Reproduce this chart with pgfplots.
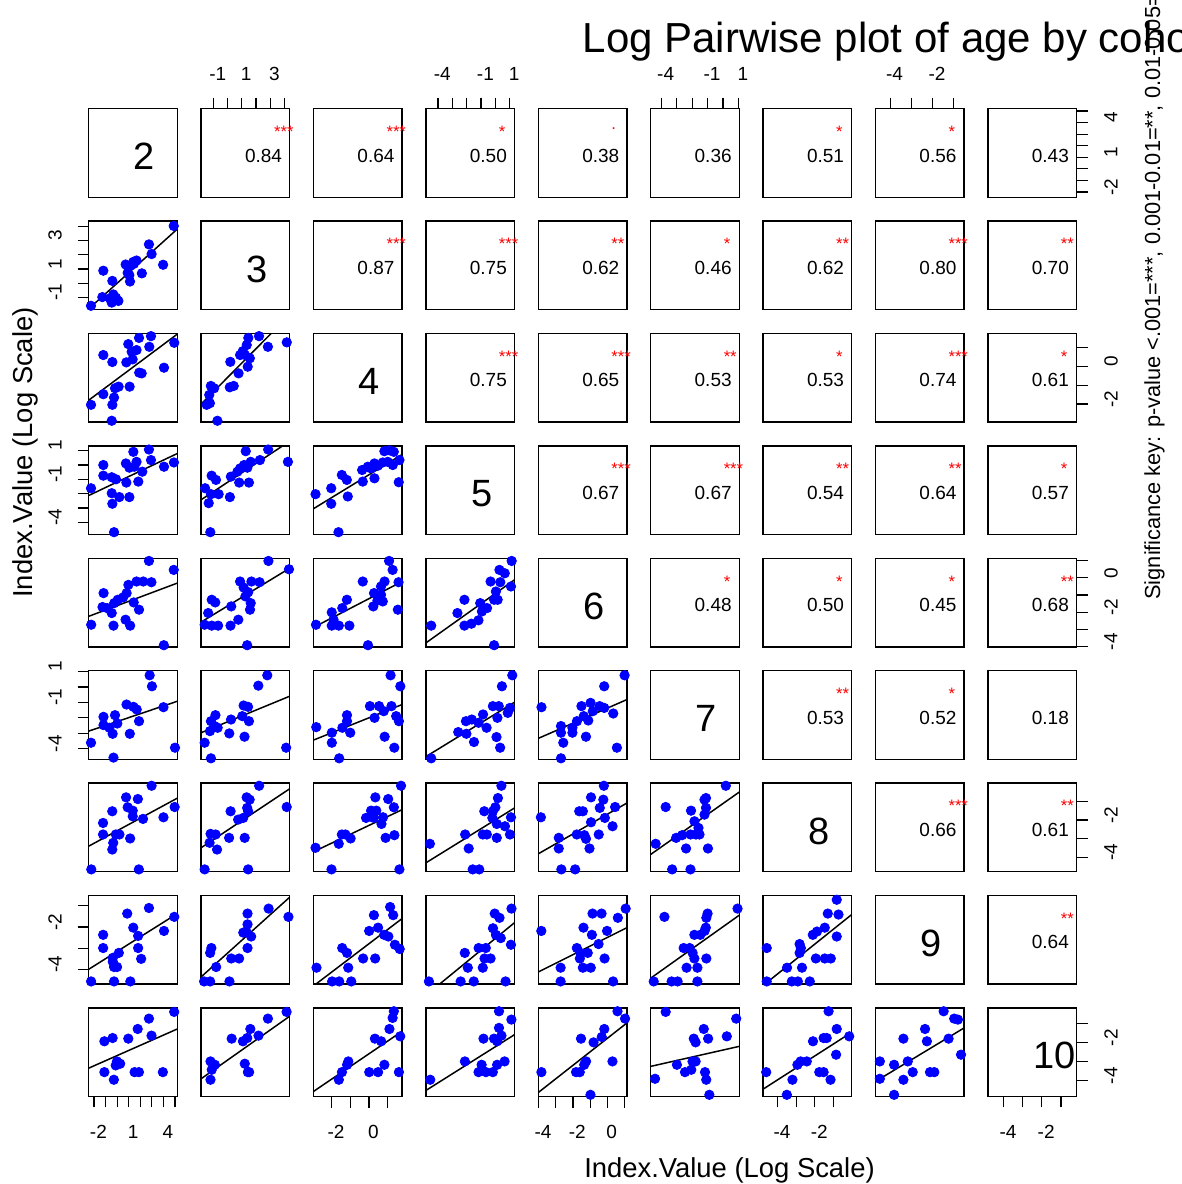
\documentclass[border=0pt]{standalone}
\usepackage{fontspec}
\setmainfont{Liberation Sans}
\usepackage{pgfplots}
\pgfplotsset{compat=1.18}
\definecolor{rblue}{RGB}{0,0,255}
\definecolor{rred}{RGB}{255,0,0}
\pgfplotsset{
  panel/.style={scale only axis, width=44.3pt, height=44.3pt,
    xmin=0, xmax=100, ymin=0, ymax=100, xtick=\empty, ytick=\empty,
    anchor=south west, clip=false, axis line style={line width=0.75pt},
    tick align=outside, major tick length=5.5pt,
    tick style={black, line width=0.6pt},
    tick label style={font=\fontsize{9.5}{11}\selectfont, inner sep=0pt}},
  pts/.style={only marks, mark=*, mark size=2.35pt, color=rblue},
  fit/.style={black, line width=0.75pt, no marks},
  v2/.style={#1tick={6.0,19.1,32.1,45.2,58.2,71.3,84.4,97.4}, #1ticklabels={-2,,,1,,,4,}},
  v3/.style={#1tick={13.9,29.9,45.9,61.9,77.9,93.9}, #1ticklabels={-1,,1,,3,}},
  v4/.style={#1tick={20.5,41.6,62.7,83.8}, #1ticklabels={-2,,0,}},
  v5/.style={#1tick={13.6,29.8,46.0,62.2,78.4,94.6}, #1ticklabels={-4,,,-1,,1}},
  v6/.style={#1tick={0.3,19.7,39.1,58.5,77.9,97.3}, #1ticklabels={-4,,-2,,0,}},
  v7/.style={#1tick={11.9,29.4,46.8,64.3,81.7,99.2}, #1ticklabels={-4,,,-1,,1}},
  v8/.style={#1tick={16.3,37.4,58.4,79.5}, #1ticklabels={-4,,-2,}},
  v9/.style={#1tick={16.6,40.5,64.4,88.3}, #1ticklabels={-4,,-2,}},
  v10/.style={#1tick={17.7,39.3,60.8,82.4}, #1ticklabels={-4,,-2,}},
  bot/.style={xtick pos=left, xticklabel pos=left, xticklabel style={anchor=north, yshift=-8.6pt, xshift=2.2pt}},
  top/.style={xtick pos=right, xticklabel pos=right, xticklabel style={anchor=south, yshift=8.2pt, xshift=2.2pt}},
  lft/.style={ytick pos=left, yticklabel pos=left, yticklabel style={xshift=-7.8pt, yshift=2.5pt, rotate=90, anchor=south}},
  rgt/.style={ytick pos=right, yticklabel pos=right, yticklabel style={xshift=8.2pt, yshift=2.5pt, rotate=90, anchor=north}},
}
\tikzset{
  corr/.style={font=\fontsize{9.5}{11}\selectfont, inner sep=0pt},
  sig/.style={font=\fontsize{8.3}{9}\selectfont, text=rred, anchor=base west, inner sep=0pt},
  diag/.style={font=\fontsize{19}{22}\selectfont, anchor=west, inner sep=0pt},
}
\newcommand\low[5]{\begin{axis}[panel,at={(#1pt,#2pt)},#3]
\addplot[pts] coordinates {#4};
\addplot[fit] coordinates {#5};
\end{axis}}
\newcommand\up[5]{\begin{axis}[panel,at={(#1pt,#2pt)},#3]
\node[corr] at (axis cs:70.5,47) {#4};
\node[sig] at (axis cs:82,67.4) {#5};
\end{axis}}
\newcommand\dg[4]{\begin{axis}[panel,at={(#1pt,#2pt)},#3]
\node[diag] at (axis cs:50.5,46) {#4};
\end{axis}}
\begin{document}
\begin{tikzpicture}
\path[use as bounding box] (0pt,0pt) rectangle (591pt,592pt);
% ---------- row 1 ----------
\dg{44.35}{493.35}{}{2}
\up{100.55}{493.35}{top,v3=x}{0.84}{***}
\up{156.75}{493.35}{}{0.64}{***}
\up{212.95}{493.35}{top,v5=x}{0.50}{*}
\up{269.15}{493.35}{}{0.38}{\raisebox{0.5em}{.}}
\up{325.35}{493.35}{top,v7=x}{0.36}{}
\up{381.55}{493.35}{}{0.51}{*}
\up{437.75}{493.35}{top,v9=x}{0.56}{*}
\up{493.95}{493.35}{rgt,v2=y}{0.43}{}
% ---------- row 2 ----------
\low{44.35}{437.15}{lft,v3=y}{(96,94.5)(2.6,4.4)(68,73.7)(71,62.8)(84,50.7)(16.5,44)(26.7,32.5)(41.7,51)(44,41.6)(50.4,54)(54,55.5)(47.7,50)(60,41)(46.6,31.8)(45.9,39)(15.4,14.2)(27.8,17.2)(26,8)(33.5,9.9)(30.8,13.5)(24,12.8)(51,51.8)}{(0,1)(100,91)}
\dg{100.55}{437.15}{}{3}
\up{156.75}{437.15}{}{0.87}{***}
\up{212.95}{437.15}{}{0.75}{***}
\up{269.15}{437.15}{}{0.62}{**}
\up{325.35}{437.15}{}{0.46}{*}
\up{381.55}{437.15}{}{0.62}{**}
\up{437.75}{437.15}{}{0.80}{***}
\up{493.95}{437.15}{}{0.70}{**}
% ---------- row 3 ----------
\low{44.35}{380.95}{}{(56.8,95)(70.3,97)(44.7,88)(96.6,89.5)(68.4,85)(54,81.3)(48.5,79.4)(49.6,70.8)(42.5,67.4)(16.5,75.7)(26.7,67.8)(85,61.4)(57,55.8)(59.8,55)(33.8,40)(29.7,38.2)(46.2,40)(16.5,31.5)(28.6,27.7)(26.7,19.5)(2.6,19.5)(26,1.5)}{(0,24.7)(100,99.3)}
\low{100.55}{380.95}{}{(53.3,95)(65.4,97)(96.7,90)(51.5,87)(75.4,85)(47,80)(49.6,75.7)(44,75.7)(55,72)(33,68)(52.6,62.5)(42.3,55)(36.8,40.8)(32.4,39.3)(11,40.8)(14.7,38.2)(9.2,30.7)(6.3,19.5)(9.9,21.3)(18.4,1.5)}{(0,20.2)(79,100)}
\dg{156.75}{380.95}{}{4}
\up{212.95}{380.95}{}{0.75}{***}
\up{269.15}{380.95}{}{0.65}{***}
\up{325.35}{380.95}{}{0.53}{**}
\up{381.55}{380.95}{}{0.53}{*}
\up{437.75}{380.95}{}{0.74}{***}
\up{493.95}{380.95}{rgt,v4=y}{0.61}{*}
% ---------- row 4 ----------
\low{44.35}{324.75}{lft,v5=y}{(68,95.9)(50.4,93.3)(2.6,52.2)(16.5,78.4)(16.5,66.4)(26,64.6)(30.8,62.3)(42,80.2)(45.9,75.4)(54,82)(70.3,84)(60.5,70.9)(42.5,58.6)(56,59.7)(85,76.5)(96.2,81.3)(26,46.6)(34.6,42.2)(45.9,42.2)(26.7,34.7)(28.6,2.6)(51.5,76.5)}{(0,44)(100,91.4)}
\low{100.55}{324.75}{}{(50.4,94)(75.7,95.9)(98,82)(66.4,84)(56,82)(48.5,78.4)(44,74.6)(41,70.9)(33.6,65.3)(43,58.6)(54,58.6)(11.9,66.4)(16.8,61.6)(4.5,52.2)(11.2,45.5)(19.8,45.5)(32.5,42.2)(8.6,35.4)(10.4,2.6)(52.2,75.4)}{(0,39.2)(92,100)}
\low{156.75}{324.75}{}{(80,94)(85.7,95)(90.6,93.3)(97,84)(89.5,78.4)(78.2,81.3)(68.8,80.2)(61.3,76.5)(54.9,72.8)(55.6,59.7)(68.8,63.4)(96.2,59)(83.8,82)(32,67.2)(37.6,61.6)(2.3,45.5)(20,52.2)(38.7,42.9)(20,34.7)(28.2,2.6)(65,74.6)(72.6,77.6)}{(0,29.1)(100,90.3)}
\dg{212.95}{324.75}{}{5}
\up{269.15}{324.75}{}{0.67}{***}
\up{325.35}{324.75}{}{0.67}{***}
\up{381.55}{324.75}{}{0.54}{**}
\up{437.75}{324.75}{}{0.64}{**}
\up{493.95}{324.75}{}{0.57}{*}
% ---------- row 5 ----------
\low{44.35}{268.55}{}{(68,97)(96,86.9)(16.8,60.7)(44.8,70)(54,73.8)(61.6,73.8)(70.8,73)(42.8,60.7)(38.8,55.8)(32.8,53.2)(28.8,49.4)(15.6,45)(26,38.2)(50.8,50.2)(56.8,42)(20.8,43.8)(28,24)(41.6,30.7)(46.8,24)(2.8,25)(84.8,1.9)}{(0,34.5)(100,72)}
\low{100.55}{268.55}{}{(76,97)(99.2,87.6)(44,73.8)(56.8,73.8)(66,73)(48,67)(53.2,61.8)(50,57)(56,49.4)(55.2,42)(12,53.2)(16,50.2)(8,38.2)(34,45.7)(42,30.7)(4,25)(12,24)(19.2,24)(33.2,24)(52,1.9)}{(0,28)(100,88.8)}
\low{156.75}{268.55}{}{(85.3,97)(89.3,86.9)(55.6,73.8)(80.2,73.8)(96,73)(76.2,68.2)(68.3,60.7)(76.2,58.8)(72.2,52.4)(78.2,51.3)(67.5,45.7)(37.7,53.2)(32.5,43.8)(20.6,39)(22.6,30.7)(2.8,25)(20.6,24)(28.6,24)(40.5,24)(95.2,42)(61.5,1.9)}{(0,22)(100,73.8)}
\low{212.95}{268.55}{}{(96.8,97)(83,86.9)(89,83.1)(96,68.2)(73,73.8)(84,73)(79,62.5)(77,53.2)(61.3,49.4)(69,43.8)(63.2,40)(43.5,53.2)(35.6,38.2)(59.3,30)(51.4,26.2)(43.5,24)(6,24)(77,1.9)(81,53.2)}{(0,4.5)(100,75.7)}
\dg{269.15}{268.55}{}{6}
\up{325.35}{268.55}{}{0.48}{*}
\up{381.55}{268.55}{}{0.50}{*}
\up{437.75}{268.55}{}{0.45}{*}
\up{493.95}{268.55}{rgt,v6=y}{0.68}{**}
% ---------- row 6 ----------
\low{44.35}{212.35}{lft,v7=y}{(68.8,94.8)(71.4,82.4)(42.7,61.8)(50.5,59.2)(54.2,56.2)(84.4,58.8)(29.7,49.8)(16.7,47.9)(32.3,40.4)(16.7,38.6)(23.4,35.6)(27,28.8)(46.4,28.8)(56.8,43)(2.6,18.7)(28,1.9)(97.4,13.1)}{(0,31.8)(100,65.5)}
\low{100.55}{212.35}{}{(74.7,94.8)(64.6,83.1)(48,60.7)(53,59.2)(16.2,49.8)(11.1,43)(33.8,44.9)(46.5,48.7)(54,43)(18.7,35.6)(10,31.8)(31.8,29.2)(49,25.5)(4,18.7)(11.1,1.1)(96,13.1)(15.2,37.5)}{(0,30)(100,71.2)}
\low{156.75}{212.35}{}{(87,94.8)(98,82.4)(63.7,60)(74,60)(88,60)(79.3,54.3)(68.9,46.8)(93.3,48.7)(96.4,43)(37.8,49.8)(37.8,43)(32.6,35.6)(41.5,30)(20.7,30)(20.7,18.7)(3.1,36.3)(80.3,25.5)(91.2,13.1)(29,1.1)}{(0,21.7)(100,61.8)}
\low{212.95}{212.35}{}{(97.5,94.8)(85.8,82.4)(75.6,60)(82.2,60)(92.4,52.4)(94.9,58)(80.7,46.8)(64.5,50.6)(45.2,43)(59.4,41.2)(68.5,35.6)(36.5,30.7)(45.7,28.8)(79.7,25.1)(83.8,13.1)(54.3,19.5)(6,1.1)(51.8,44.9)}{(0,3)(100,64.4)}
\low{269.15}{212.35}{}{(97.4,94.8)(74.4,82.4)(48.7,60)(59,63.7)(69.2,60)(74.4,58)(61.5,54.3)(51.3,48.7)(56.4,43.8)(84.6,51.7)(43.6,43)(38.5,35.6)(25.6,37.5)(25.6,30)(38.5,30)(53.8,25.5)(28.2,18.7)(3.6,58.8)(88.7,13.1)(25.6,1.1)}{(0,23.6)(100,67.4)}
\dg{325.35}{212.35}{}{7}
\up{381.55}{212.35}{}{0.53}{**}
\up{437.75}{212.35}{}{0.52}{*}
\up{493.95}{212.35}{}{0.18}{}
% ---------- row 7 ----------
\low{44.35}{156.15}{}{(71,97)(42.2,83.9)(55.5,82)(97,73)(26.6,68.2)(44,72.7)(49.7,68.9)(49.7,62.5)(61.3,59.6)(84.4,61.4)(16.2,55)(16.2,42)(30.6,42)(34.7,42)(46.8,37.5)(27.7,32.6)(26.6,25)(2.9,2.6)(56.6,2.6)}{(0,28.8)(100,83)}
\low{100.55}{156.15}{}{(65.5,97)(96.6,73)(51.4,83.9)(54.8,81.3)(52,72)(33.3,68.2)(53.1,68.2)(47.5,60.7)(41.8,58.8)(10.7,42.7)(16.4,42)(31.6,38.2)(49.2,38.2)(9.6,32.6)(18,25)(4,2.6)(53.1,2.6)}{(0,27)(100,93.6)}
\low{156.75}{156.15}{}{(98.8,97)(69.8,83.9)(84.3,82)(90.7,72.7)(70.9,68.9)(65,68.9)(59.3,60.7)(68,60.7)(78.5,61.4)(76.7,53.9)(36,42)(32,42)(41.9,37.5)(28.5,31.5)(81.4,38.2)(91.3,41.2)(2.3,27)(20.3,2.6)(97,2.6)}{(0,22.5)(100,70)}
\low{212.95}{156.15}{}{(85.2,97)(81.3,83.1)(78.4,72.7)(65.9,68.2)(75.6,68.2)(75,60.7)(96,61.4)(80,53.9)(89.2,51.3)(94.9,42)(44.3,42)(64.2,42)(68.8,42)(80,38.2)(4.5,31.5)(48.3,26.2)(52.8,2.6)(60.2,2.6)}{(0,10)(100,71.9)}
\low{269.15}{156.15}{}{(74,97)(59.5,83.9)(73.4,81.3)(86.7,73)(69.4,72)(46.2,68.2)(50.3,68.2)(59.5,55.8)(83.8,51.3)(75.1,60.7)(2.9,61.4)(43.4,42)(52,41.2)(68.2,42)(23.1,38.2)(53.8,37.1)(23.1,26.2)(57.8,26.2)(26,2.6)(41.6,2.6)}{(0,20.2)(100,77.5)}
\low{325.35}{156.15}{}{(84.8,97)(62.4,83.1)(60.7,81.3)(16.9,73)(45.5,68.9)(62.4,72)(60.7,64.4)(49.4,56.9)(53.9,49.4)(28.7,38.2)(35.4,41.2)(44.9,42)(51.1,42)(55.1,42)(5.6,31.5)(39.9,26.2)(64.6,26.2)(24.2,2.6)(44.9,2.6)}{(0,19.5)(100,89.9)}
\dg{381.55}{156.15}{}{8}
\up{437.75}{156.15}{}{0.66}{***}
\up{493.95}{156.15}{rgt,v8=y}{0.61}{**}
% ---------- row 8 ----------
\low{44.35}{99.95}{lft,v9=y}{(68,85.9)(43.5,79.6)(96.6,75.9)(16.3,55.6)(50.3,63.7)(85,60)(55.8,54.4)(16.3,40.7)(34,35.2)(27.2,29.6)(55.8,40.7)(59.2,28.5)(28.6,19.3)(32,19.3)(2.7,3)(28.6,3)(47,3)(27.2,25.2)}{(0,16.7)(100,79.6)}
\low{100.55}{99.95}{}{(76.2,85.2)(98.6,75.9)(52.4,79.6)(52.4,67.4)(47.6,58.1)(56.5,53.7)(52.4,40.7)(11.6,40.7)(10.2,35.2)(17,19.3)(34,28.9)(42.9,28.9)(3.4,3)(10.2,3)(32,3)(51,59.3)}{(0,8.1)(100,98.1)}
\low{156.75}{99.95}{}{(86.5,87)(89.9,77.8)(68.2,77.8)(72.9,63.7)(62.8,60)(79.7,55.6)(84.5,53.7)(91.9,44.4)(97.3,39.6)(32.4,40.7)(37.8,35.2)(56,28.9)(69.6,28.9)(39.2,18.5)(3.4,18.5)(21,3)(29,3)(42.6,3)}{(2.7,0)(100,74)}
\low{212.95}{99.95}{}{(96.6,85.2)(77.7,79.6)(83.1,74.8)(75.7,63)(79,55.6)(84.5,51.9)(96,44.4)(59.5,40.7)(67.6,40.7)(43.9,35.2)(66.2,28.9)(73,28.9)(47.3,18.5)(64.2,18.5)(3.4,3)(39.2,3)(54,3)(89.9,3)}{(15.5,0)(100,69.3)}
\low{269.15}{99.95}{}{(98.6,85.2)(61.2,79.6)(71.4,79.6)(89.8,74.8)(51,63.7)(77.6,60)(60.5,55.6)(3.4,60)(68,45.2)(43.5,40.7)(47.6,35.2)(55.8,35.2)(46.9,28.9)(74.8,28.9)(25.2,18.5)(50.3,18.5)(59.2,18.5)(25.2,3)(84.4,3)}{(0,13.7)(100,63.7)}
\low{325.35}{99.95}{}{(98,85.2)(15.5,75.9)(64.2,79.6)(62.8,74.8)(62.2,63.7)(60.8,60)(49.3,55.6)(56,55.6)(37.2,40.7)(43.9,40.7)(47.3,35.2)(49.3,28.9)(62.8,28.9)(40.5,18.5)(52.7,18.5)(3.4,3)(23.6,3)(30.4,3)(52.7,3)}{(0,6.7)(100,77.8)}
\low{381.55}{99.95}{}{(83.1,95.2)(73,79.6)(85.1,78.5)(69.6,63.7)(60.8,59.3)(56.1,55.6)(83.1,53.7)(41.2,45.2)(42.6,40.7)(41.2,35.2)(4.1,40.7)(59.5,28.9)(69.6,28.9)(76.4,28.9)(27,18.5)(43.9,18.5)(4.1,3)(32.4,3)(39.2,3)(52.7,3)}{(2,0)(100,78.5)}
\dg{437.75}{99.95}{}{9}
\up{493.95}{99.95}{}{0.64}{**}
% ---------- row 9 ----------
\low{44.35}{43.75}{bot,v2=x}{(96.5,95.5)(68,87.9)(55.3,76.2)(70.9,68.7)(17.7,62.3)(27,66)(44.7,65.3)(31.9,39.6)(35.5,37)(30.5,35.1)(17.7,27.5)(28.4,18.9)(51.8,27.5)(56.7,27.5)(83.7,27.5)}{(0,32)(100,76.2)}
\low{100.55}{43.75}{}{(96.5,95.5)(75.4,87.9)(55.6,76.2)(64.8,68.7)(34.5,65.3)(47.2,62.3)(52.1,66)(10.6,39.6)(15.5,35.8)(12,30.2)(10.6,18.9)(49.3,37)(52.8,27.5)(54.2,27.5)}{(0,20)(100,90.6)}
\low{156.75}{43.75}{bot,v4=x}{(90.7,96.2)(89.3,88.7)(85.7,76.2)(97.9,67.9)(69.3,65.3)(76.4,62.3)(39.3,39.6)(37.9,35.8)(32.1,27.5)(28.6,18.9)(62.9,27.5)(72.9,27.5)(80,35.8)(96.4,27.5)}{(0,5.7)(100,73.6)}
\low{212.95}{43.75}{}{(82.5,96.2)(96.5,86.8)(82.5,77.4)(65,65.3)(76.9,65.3)(80.4,62.3)(85.3,68.7)(44,39.6)(62.9,35.8)(80.4,35.8)(88.8,39.6)(59.4,27.5)(67.8,27.5)(75.5,27.5)(4.9,18.9)}{(0,6.8)(100,69.8)}
\low{269.15}{43.75}{bot,v6=x}{(89.4,96.2)(97.9,87.9)(74.5,76.2)(48.2,65.3)(71.6,67.2)(62.4,61.1)(53.9,39.6)(51.8,35.8)(46.8,27.5)(42.6,27.5)(3.5,27.5)(83.7,39.6)(58.9,1.9)}{(0,4.5)(100,83)}
\low{325.35}{43.75}{}{(16.9,95.5)(96.5,87.9)(59.9,76.2)(48.6,65.3)(50.7,61.1)(64.8,65.3)(85.9,67.9)(47.2,39.6)(50.7,39.6)(29.6,35.8)(45.8,30.2)(38.7,27.5)(61.3,27.5)(62.7,18.9)(4.9,20)(66.2,1.9)}{(0,34)(100,56.6)}
\low{381.55}{43.75}{bot,v8=x}{(73.9,96.2)(83.1,76.2)(97.2,67.9)(56.3,62.3)(68.3,66)(71.8,66)(82.4,47.2)(42.3,39.6)(38.7,35.8)(49.3,39.6)(33.1,18.9)(63.4,27.5)(68.3,27.5)(76.1,18.9)(3.5,27.5)(26.8,1.9)}{(0,8.3)(100,72.5)}
\low{437.75}{43.75}{}{(76.9,96.2)(88.8,87.9)(93,86.8)(55.9,76.2)(31.5,65.3)(58,62.3)(82.5,65.3)(96.5,47.2)(36.4,39.6)(4.9,39.6)(21,35.8)(42,27.5)(61.5,27.5)(66.4,27.5)(4.9,20)(31.5,18.9)(21,1.9)}{(0,17)(100,77.4)}
\dg{493.95}{43.75}{bot,v10=x,rgt,v10=y}{10}
% ---------- titles ----------
\node[anchor=base west, inner sep=0pt, font=\fontsize{21}{25}\selectfont] at (291.25pt,565.5pt) {Log Pairwise plot of age by cohort};
\node[anchor=base, inner sep=0pt, font=\fontsize{13.7}{16}\selectfont] at (364.75pt,3pt) {Index.Value (Log Scale)};
\node[anchor=base, rotate=90, inner sep=0pt, font=\fontsize{13.7}{16}\selectfont] at (16.5pt,365.75pt) {Index.Value (Log Scale)};
\node[anchor=base west, rotate=90, inner sep=0pt, font=\fontsize{10.9}{12}\selectfont] at (580pt,292pt) {Significance key: p-value <.001=***, 0.001-0.01=**, 0.01-0.05=*, 0.05-0.1=.};
\end{tikzpicture}
\end{document}
